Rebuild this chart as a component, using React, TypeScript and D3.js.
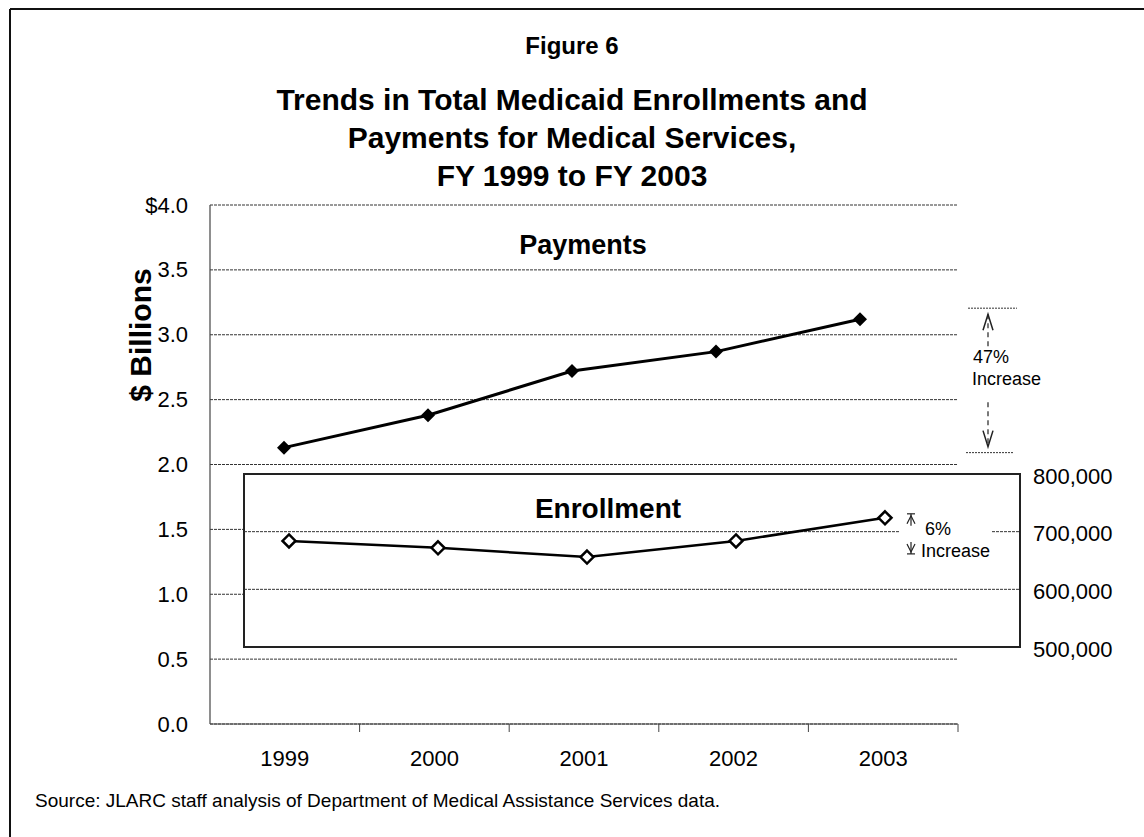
import React from "react";
import * as d3 from "d3";

const years = ["1999", "2000", "2001", "2002", "2003"];
const payments = [2.13, 2.38, 2.72, 2.87, 3.12];
const enrollment = [684000, 672000, 656000, 684000, 724000];
const leftTicks = [0, 0.5, 1.0, 1.5, 2.0, 2.5, 3.0, 3.5, 4.0];
const rightTicks = [500000, 600000, 700000, 800000];
const titleLines = [
  "Trends in Total Medicaid Enrollments and",
  "Payments for Medical Services,",
  "FY 1999 to FY 2003",
];

const W = 1144;
const H = 837;
const FONT = "'Liberation Sans', Arial, Helvetica, sans-serif";

export default function App() {
  const plotL = 210, plotR = 958, plotT = 205, plotB = 724;
  const boxL = 244, boxR = 1020, boxT = 474, boxB = 647;

  const y = d3.scaleLinear().domain([0, 4]).range([plotB, plotT]);
  const band = d3.scaleBand().domain(years).range([plotL, plotR]);
  const xPay = d3.scalePoint().domain(years).range([284, 860]);
  const xEnr = d3.scalePoint().domain(years).range([289, 885]);
  const yE = d3.scaleLinear().domain([500000, 800000]).range([boxB, boxT]);

  const payLine = d3.line<number>().x((_, i) => xPay(years[i])!).y((d) => y(d));
  const enrLine = d3.line<number>().x((_, i) => xEnr(years[i])!).y((d) => yE(d));

  const diamond = (cx: number, cy: number, r: number) =>
    `M${cx},${cy - r}L${cx + r},${cy}L${cx},${cy + r}L${cx - r},${cy}Z`;

  const gridStroke = "#333";
  const fmt = d3.format(",");

  const payTop = y(payments[payments.length - 1]) - 11;
  const payBot = y(payments[0]) + 5;
  const aX = 988;

  const eTop = yE(enrollment[enrollment.length - 1]) - 4;
  const eBot = yE(enrollment[enrollment.length - 2]) + 13;
  const eX = 911;

  return (
    <svg width={W} height={H} style={{ position: "absolute", left: 0, top: 0, background: "#fff" }} fontFamily={FONT}>
      <rect x={0} y={0} width={W} height={H} fill="#fff" />
      {/* frame */}
      <line x1={10} y1={9} x2={W} y2={9} stroke="#111" strokeWidth={2} />
      <line x1={10} y1={9} x2={10} y2={H} stroke="#111" strokeWidth={2} />

      {/* titles */}
      <text x={572} y={45} textAnchor="middle" dominantBaseline="central" fontSize={24} fontWeight="bold">Figure 6</text>
      {titleLines.map((t, i) => (
        <text key={t} x={572} y={99 + i * 38} textAnchor="middle" dominantBaseline="central" fontSize={30} fontWeight="bold">{t}</text>
      ))}

      {/* left gridlines */}
      {leftTicks.map((t) => (
        <line key={t} x1={plotL} x2={plotR} y1={y(t)} y2={y(t)} stroke={gridStroke} strokeWidth={1} strokeDasharray="3,1" />
      ))}
      {leftTicks.map((t) => (
        <text key={"l" + t} x={188} y={y(t)} textAnchor="end" dominantBaseline="central" fontSize={22}>
          {t === 4 ? "$4.0" : t.toFixed(1)}
        </text>
      ))}
      {/* axes */}
      <line x1={plotL} x2={plotL} y1={plotT} y2={plotB} stroke="#444" strokeWidth={1.2} />
      <line x1={plotL} x2={plotR} y1={plotB} y2={plotB} stroke="#444" strokeWidth={1.2} />
      {years.map((yr) => (
        <line key={"t" + yr} x1={band(yr)! + band.bandwidth()} x2={band(yr)! + band.bandwidth()} y1={plotB} y2={plotB + 8} stroke="#444" strokeWidth={1} />
      ))}
      {years.map((yr) => (
        <text key={"x" + yr} x={band(yr)! + band.bandwidth() / 2} y={758} textAnchor="middle" dominantBaseline="central" fontSize={22}>{yr}</text>
      ))}

      <text transform={`translate(140,335) rotate(-90)`} textAnchor="middle" dominantBaseline="central" fontSize={30} fontWeight="bold">$ Billions</text>

      {/* payments series */}
      <text x={583} y={245} textAnchor="middle" dominantBaseline="central" fontSize={27} fontWeight="bold">Payments</text>
      <path d={payLine(payments)!} fill="none" stroke="#000" strokeWidth={3} />
      {payments.map((v, i) => (
        <path key={"p" + i} d={diamond(xPay(years[i])!, y(v), 7)} fill="#000" />
      ))}

      {/* 47% annotation */}
      <line x1={968} x2={1017} y1={payTop} y2={payTop} stroke="#333" strokeWidth={1} strokeDasharray="2,1" />
      <line x1={966} x2={1014} y1={payBot} y2={payBot} stroke="#333" strokeWidth={1} strokeDasharray="2,1" />
      <line x1={aX} x2={aX} y1={payTop + 6} y2={payTop + 38} stroke="#222" strokeWidth={1.2} strokeDasharray="5,4" />
      <line x1={aX} x2={aX} y1={payTop + 94} y2={payBot - 6} stroke="#222" strokeWidth={1.2} strokeDasharray="5,4" />
      <path d={`M${aX - 5},${payTop + 22}L${aX},${payTop + 6}L${aX + 5},${payTop + 22}`} fill="none" stroke="#222" strokeWidth={1.5} />
      <path d={`M${aX - 5},${payBot - 22}L${aX},${payBot - 6}L${aX + 5},${payBot - 22}`} fill="none" stroke="#222" strokeWidth={1.5} />
      <text x={973} y={357} dominantBaseline="central" fontSize={18}>47%</text>
      <text x={972} y={379} dominantBaseline="central" fontSize={18}>Increase</text>

      {/* enrollment box */}
      <rect x={boxL} y={boxT} width={boxR - boxL} height={boxB - boxT} fill="#fff" stroke="#222" strokeWidth={2} />
      {rightTicks.slice(1, 3).map((t) => (
        <line key={"g" + t} x1={boxL} x2={boxR} y1={yE(t)} y2={yE(t)} stroke={gridStroke} strokeWidth={1} strokeDasharray="3,1" />
      ))}
      {rightTicks.map((t) => (
        <text key={"r" + t} x={1033} y={yE(t) + 2} dominantBaseline="central" fontSize={22}>{fmt(t)}</text>
      ))}
      <text x={608} y={508} textAnchor="middle" dominantBaseline="central" fontSize={28} fontWeight="bold">Enrollment</text>

      {/* 6% annotation */}
      <rect x={900} y={eTop - 2} width={92} height={eBot - eTop + 6} fill="#fff" />
      <line x1={eX - 4} x2={eX + 4} y1={eTop} y2={eTop} stroke="#222" strokeWidth={1.2} />
      <line x1={eX - 4} x2={eX + 4} y1={eBot} y2={eBot} stroke="#222" strokeWidth={1.2} />
      <line x1={eX} x2={eX} y1={eTop} y2={eTop + 12} stroke="#222" strokeWidth={1.2} />
      <line x1={eX} x2={eX} y1={eBot - 12} y2={eBot} stroke="#222" strokeWidth={1.2} />
      <path d={`M${eX - 4},${eTop + 10}L${eX},${eTop + 2}L${eX + 4},${eTop + 10}`} fill="none" stroke="#222" strokeWidth={1.2} />
      <path d={`M${eX - 4},${eBot - 10}L${eX},${eBot - 2}L${eX + 4},${eBot - 10}`} fill="none" stroke="#222" strokeWidth={1.2} />
      <text x={925} y={529} dominantBaseline="central" fontSize={18}>6%</text>
      <text x={921} y={551} dominantBaseline="central" fontSize={18}>Increase</text>

      <path d={enrLine(enrollment)!} fill="none" stroke="#000" strokeWidth={2.5} />
      {enrollment.map((v, i) => (
        <path key={"e" + i} d={diamond(xEnr(years[i])!, yE(v), 6.5)} fill="#fff" stroke="#000" strokeWidth={2.5} />
      ))}

      {/* source */}
      <text x={35} y={800} dominantBaseline="central" fontSize={19}>Source:  JLARC staff analysis of Department of Medical Assistance Services data.</text>
    </svg>
  );
}
